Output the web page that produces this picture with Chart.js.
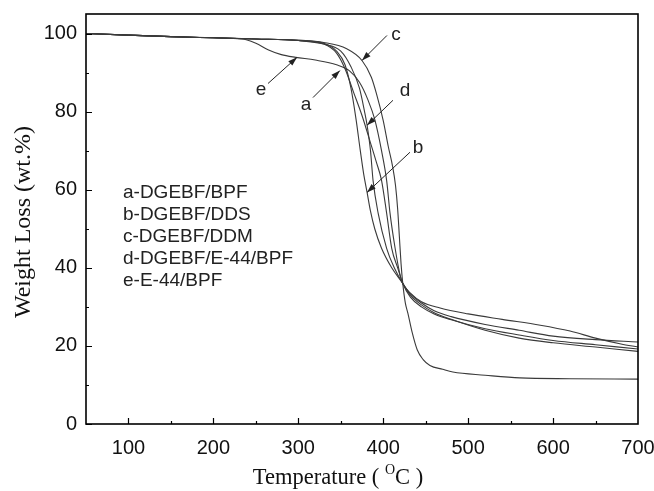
<!DOCTYPE html>
<html>
<head>
<meta charset="utf-8">
<script src="https://cdn.jsdelivr.net/npm/chart.js@4.4.0/dist/chart.umd.min.js"></script>
<style>
    html, body { margin: 0; padding: 0; background: #fff; }
    #wrap { width: 654px; height: 491px; }
</style>
</head>
<body>
<div id="wrap"><canvas id="tgaChart" width="654" height="491"></canvas></div>
<script>
// TGA curves, temperature (C) vs residual weight (wt.%)
const aTemp = [50, 100, 150, 200, 250, 300, 330, 345, 355, 365, 375, 385, 392, 398, 404, 410, 417, 423, 432, 445, 460, 480, 520, 560, 600, 650, 700];
const aWeight = [100, 99.6, 99.2, 98.9, 98.6, 98.2, 97.3, 95, 91, 85, 79, 72, 67, 62.4, 54, 45, 40, 36, 32.5, 30, 28.2, 26.7, 24.4, 22.8, 21.4, 20.3, 19.2];

const bTemp = [50, 100, 150, 200, 250, 300, 330, 345, 355, 362, 368, 373, 377, 381, 385, 390, 398, 410, 423, 432, 445, 460, 480, 520, 560, 600, 650, 700];
const bWeight = [100, 99.6, 99.2, 98.9, 98.6, 98.2, 97.5, 95.5, 92, 86, 78, 70, 64, 59.3, 54.5, 50, 45, 40, 36, 33, 30.5, 28.5, 26.8, 24, 22, 20.8, 19.7, 18.6];

const cTemp = [50, 100, 150, 200, 250, 300, 330, 357, 375, 386, 392, 400, 406, 411, 414.5, 417, 419, 421, 423, 426, 429, 434, 440, 447, 455, 470, 482, 520, 561, 620, 700];
const cWeight = [100, 99.6, 99.2, 98.9, 98.6, 98.3, 97.7, 96.1, 93.1, 88.8, 84.6, 77.7, 71, 66, 61, 55, 48, 41, 36, 31, 28.4, 23.5, 19, 16.5, 15, 14, 13.3, 12.5, 11.8, 11.6, 11.5];

const dTemp = [50, 100, 150, 200, 250, 300, 330, 350, 362, 372, 378, 381, 385, 388, 394, 404, 413, 423, 432, 445, 460, 480, 520, 560, 600, 650, 700];
const dWeight = [100, 99.6, 99.2, 98.9, 98.6, 98.2, 97.3, 95.5, 91.5, 86, 80, 76.5, 70, 62.4, 54, 45, 40, 36, 33.3, 31, 29, 27.5, 25.5, 24, 22.5, 21.6, 21];

const eTemp = [50, 100, 150, 200, 235, 250, 265, 280, 297, 320, 345, 360, 372, 382, 390, 398, 404, 408, 414, 420, 423, 432, 445, 467, 500, 540, 585, 620, 650, 680, 700];
const eWeight = [100, 99.6, 99.2, 98.9, 98.6, 97.5, 95.8, 94.6, 93.9, 93.2, 92, 90.5, 87.5, 83, 78, 70, 62.4, 54, 45, 38, 36, 33.5, 31.3, 29.7, 28.2, 26.8, 25.3, 23.8, 22, 20.5, 19.7];

const seriesNames = ['a-DGEBF/BPF', 'b-DGEBF/DDS', 'c-DGEBF/DDM', 'd-DGEBF/E-44/BPF', 'e-E-44/BPF'];

// tick labels
const xTickValues = [100, 200, 300, 400, 500, 600, 700];
const yTickValues = [0, 20, 40, 60, 80, 100];

// arrow labels: letter, text position, arrow tail, arrow head (data units)
const arrowLetters = ['c', 'e', 'a', 'd', 'b'];
const arrowTextPos = [[415, 99.7], [256, 85.7], [309, 81.8], [425.6, 85.4], [441, 70.8]];
const arrowTails = [[404.4, 99.5], [264.3, 87.2], [317.3, 83.6], [411.5, 82.9], [431.5, 69.6]];
const arrowHeads = [[375, 93.1], [298.5, 93.9], [349, 90.5], [380.9, 76.5], [380.9, 59.3]];

const xMin = 50, xMax = 700, yMin = 0, yMax = 105;

function toPoints(xs, ys) {
    return xs.map((x, i) => ({x: x, y: ys[i]}));
}

const curveColor = '#3a3a3a';
const seriesData = [[aTemp, aWeight], [bTemp, bWeight], [cTemp, cWeight], [dTemp, dWeight], [eTemp, eWeight]];
const sansFont = '"Liberation Sans", Arial, sans-serif';
const serifFont = '"Liberation Serif", "Times New Roman", serif';

const frameAndNotes = {
    id: 'frameAndNotes',
    afterDraw(chart) {
        const ctx = chart.ctx;
        const area = chart.chartArea;
        const xs = chart.scales.x;
        const ys = chart.scales.y;
        ctx.save();

        // frame
        ctx.strokeStyle = '#000';
        ctx.lineWidth = 1.6;
        ctx.strokeRect(area.left, area.top, area.right - area.left, area.bottom - area.top);

        // inward ticks
        ctx.lineWidth = 1.2;
        ctx.beginPath();
        for (let v = 100; v <= 650; v += 50) {
            const px = Math.round(xs.getPixelForValue(v)) + 0.5;
            const len = v % 100 === 0 ? 6 : 3;
            ctx.moveTo(px, area.bottom);
            ctx.lineTo(px, area.bottom - len);
        }
        for (let v = 0; v <= 100; v += 10) {
            const py = Math.round(ys.getPixelForValue(v)) + 0.5;
            const len = v % 20 === 0 ? 6 : 3;
            ctx.moveTo(area.left, py);
            ctx.lineTo(area.left + len, py);
        }
        ctx.stroke();

        // tick labels
        ctx.fillStyle = '#111';
        ctx.font = '20px ' + sansFont;
        ctx.textBaseline = 'middle';
        ctx.textAlign = 'center';
        xTickValues.forEach(v => ctx.fillText(String(v), xs.getPixelForValue(v), area.bottom + 24));
        ctx.textAlign = 'right';
        yTickValues.forEach(v => ctx.fillText(String(v), area.left - 9, ys.getPixelForValue(v)));

        // legend text
        ctx.fillStyle = '#222';
        ctx.font = '19px ' + sansFont;
        ctx.textAlign = 'left';
        seriesNames.forEach((name, i) => {
            ctx.fillText(name, 123, 193 + i * 22);
        });

        // arrows with letters
        ctx.strokeStyle = '#222';
        ctx.lineWidth = 1;
        arrowLetters.forEach((letter, i) => {
            const x0 = xs.getPixelForValue(arrowTails[i][0]);
            const y0 = ys.getPixelForValue(arrowTails[i][1]);
            const x1 = xs.getPixelForValue(arrowHeads[i][0]);
            const y1 = ys.getPixelForValue(arrowHeads[i][1]);
            ctx.beginPath();
            ctx.moveTo(x0, y0);
            ctx.lineTo(x1, y1);
            ctx.stroke();
            const ang = Math.atan2(y1 - y0, x1 - x0);
            const hl = 9, hw = 3;
            ctx.beginPath();
            ctx.moveTo(x1, y1);
            ctx.lineTo(x1 - hl * Math.cos(ang) + hw * Math.sin(ang), y1 - hl * Math.sin(ang) - hw * Math.cos(ang));
            ctx.lineTo(x1 - hl * Math.cos(ang) - hw * Math.sin(ang), y1 - hl * Math.sin(ang) + hw * Math.cos(ang));
            ctx.closePath();
            ctx.fill();
            ctx.textAlign = 'center';
            ctx.fillText(letter, xs.getPixelForValue(arrowTextPos[i][0]), ys.getPixelForValue(arrowTextPos[i][1]));
        });

        // axis titles (serif)
        ctx.fillStyle = '#111';
        ctx.font = '24px ' + serifFont;
        ctx.textAlign = 'center';
        ctx.save();
        ctx.translate(24, 222);
        ctx.rotate(-Math.PI / 2);
        ctx.fillText('Weight Loss (wt.%)', 0, 0);
        ctx.restore();

        // x title with superscript O
        ctx.font = '22.5px ' + serifFont;
        const partA = 'Temperature ( ';
        const partB = 'C )';
        const wA = ctx.measureText(partA).width;
        const wB = ctx.measureText(partB).width;
        ctx.font = '14px ' + serifFont;
        const wO = ctx.measureText('O').width;
        const total = wA + wO + wB;
        const cx = 338 - total / 2;
        const ty = 478;
        ctx.textAlign = 'left';
        ctx.font = '22.5px ' + serifFont;
        ctx.fillText(partA, cx, ty);
        ctx.font = '14px ' + serifFont;
        ctx.fillText('O', cx + wA, ty - 8);
        ctx.font = '22.5px ' + serifFont;
        ctx.fillText(partB, cx + wA + wO, ty);
        ctx.restore();
    }
};

const ctx = document.getElementById('tgaChart').getContext('2d');
const tgaChart = new Chart(ctx, {
    type: 'line',
    data: {
        datasets: seriesData.map((s, i) => ({
            label: seriesNames[i],
            data: toPoints(s[0], s[1]),
            borderColor: curveColor,
            borderWidth: 1.1,
            pointRadius: 0,
            fill: false,
            cubicInterpolationMode: 'monotone'
        }))
    },
    options: {
        responsive: false,
        animation: false,
        layout: {
            padding: { top: 14, right: 16, left: 0, bottom: 0 }
        },
        plugins: {
            legend: { display: false },
            tooltip: { enabled: false }
        },
        scales: {
            x: {
                type: 'linear',
                min: xMin,
                max: xMax,
                grid: { display: false, drawTicks: false },
                border: { display: false },
                ticks: { display: false, stepSize: 100 },
                afterFit(scale) { scale.height = 67; }
            },
            y: {
                min: yMin,
                max: yMax,
                grid: { display: false, drawTicks: false },
                border: { display: false },
                ticks: { display: false, stepSize: 20 },
                afterFit(scale) { scale.width = 86; }
            }
        }
    },
    plugins: [frameAndNotes]
});
</script>
</body>
</html>
